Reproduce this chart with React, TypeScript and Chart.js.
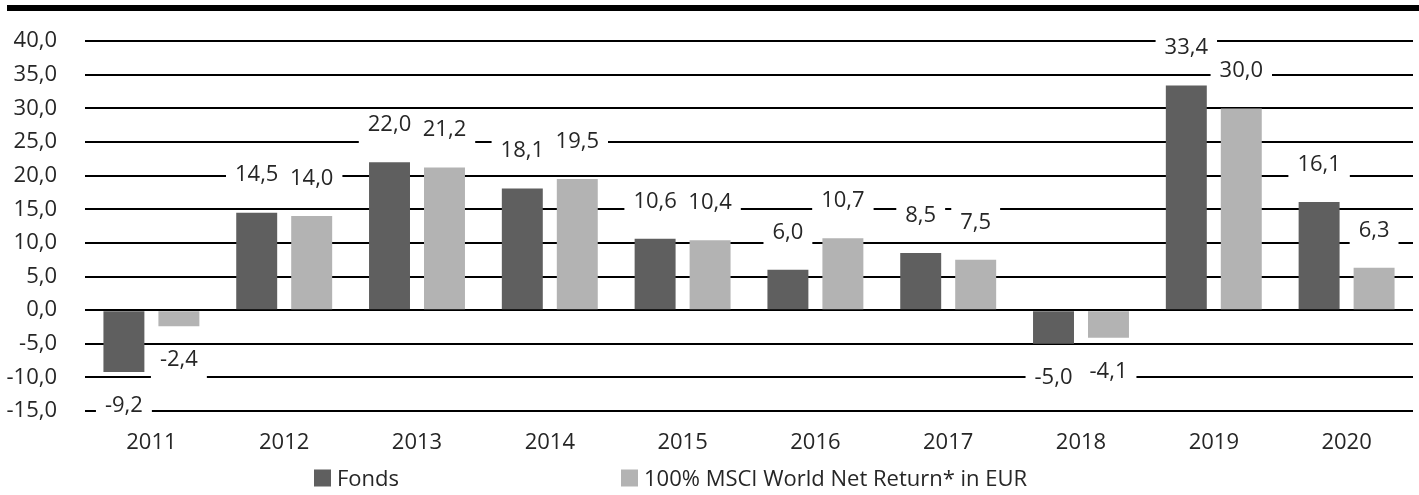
import React, { useEffect, useRef } from "react";
import { Chart, registerables } from "chart.js";

Chart.register(...registerables);

const years = ["2011", "2012", "2013", "2014", "2015", "2016", "2017", "2018", "2019", "2020"];
const fondsValues = [-9.2, 14.5, 22.0, 18.1, 10.6, 6.0, 8.5, -5.0, 33.4, 16.1];
const msciValues = [-2.4, 14.0, 21.2, 19.5, 10.4, 10.7, 7.5, -4.1, 30.0, 6.3];
const seriesNames = ["Fonds", "100% MSCI World Net Return* in EUR"];
const seriesColors = ["#5f5f5f", "#b3b3b3"];
const yMin = -15;
const yMax = 40;
const yStep = 5;

const FONT = "'Open Sans', 'Noto Sans', sans-serif";
const FS = 22;
const TEXT = "#262626";

const fmt = (v: number) => v.toFixed(1).replace(".", ",");

const extrasPlugin = {
  id: "extras",
  beforeDraw(chart: any) {
    const ctx = chart.ctx;
    ctx.save();
    ctx.fillStyle = "#000";
    ctx.fillRect(7, 5, chart.width - 7, 6);
    ctx.restore();
  },
  afterDatasetsDraw(chart: any) {
    const ctx = chart.ctx;
    ctx.save();
    ctx.font = `${FS}px ${FONT}`;
    ctx.textAlign = "center";
    ctx.textBaseline = "alphabetic";
    chart.data.datasets.forEach((ds: any, di: number) => {
      const meta = chart.getDatasetMeta(di);
      meta.data.forEach((bar: any, i: number) => {
        const v = ds.data[i] as number;
        const txt = fmt(v);
        const w = ctx.measureText(txt).width;
        const cx = bar.x;
        const cy = v >= 0 ? bar.y - 39 : bar.y + 32;
        ctx.fillStyle = "#fff";
        ctx.fillRect(cx - w / 2 - 9, cy - 13, w + 18, 34);
        ctx.fillStyle = TEXT;
        ctx.fillText(txt, cx, cy + 7.8);
      });
    });
    ctx.restore();
  },
  afterDraw(chart: any) {
    const ctx = chart.ctx;
    ctx.save();
    ctx.font = `${FS}px ${FONT}`;
    ctx.textBaseline = "alphabetic";
    ctx.textAlign = "left";
    const xs = [314, 621];
    const cy = 478;
    seriesNames.forEach((name, i) => {
      ctx.fillStyle = seriesColors[i];
      ctx.fillRect(xs[i], cy - 8.5, 17, 17);
      ctx.fillStyle = TEXT;
      ctx.fillText(name, xs[i] + 23, cy + 7.8);
    });
    ctx.restore();
  },
};

export default function App() {
  const ref = useRef<HTMLCanvasElement | null>(null);
  useEffect(() => {
    if (!ref.current) return;
    const chart = new Chart(ref.current, {
      type: "bar",
      data: {
        labels: years,
        datasets: [
          {
            label: seriesNames[0],
            data: fondsValues,
            backgroundColor: seriesColors[0],
            categoryPercentage: 0.828,
            barPercentage: 0.745,
          },
          {
            label: seriesNames[1],
            data: msciValues,
            backgroundColor: seriesColors[1],
            categoryPercentage: 0.828,
            barPercentage: 0.745,
          },
        ],
      },
      options: {
        responsive: false,
        animation: false,
        layout: { padding: { top: 37, right: 6, bottom: 0, left: 0 } },
        plugins: {
          legend: { display: false },
          tooltip: { enabled: false },
        },
        scales: {
          x: {
            grid: { display: false, drawTicks: false },
            border: { display: false },
            ticks: {
              color: TEXT,
              font: { family: FONT, size: FS },
              padding: 19,
              maxRotation: 0,
            },
            afterFit: (s: any) => {
              s.height = 84;
            },
          },
          y: {
            min: yMin,
            max: yMax,
            grid: { color: "#000", lineWidth: 2, drawTicks: false },
            border: { display: false },
            ticks: {
              stepSize: yStep,
              color: TEXT,
              font: { family: FONT, size: FS },
              padding: 28,
              callback: (v: any) => fmt(Number(v)),
            },
            afterFit: (s: any) => {
              s.width = 85;
            },
          },
        },
      },
      plugins: [extrasPlugin],
    });
    return () => chart.destroy();
  }, []);
  return (
    <div style={{ position: "absolute", left: 0, top: 0, width: 1419, height: 495, background: "#fff" }}>
      <canvas ref={ref} width={1419} height={495} style={{ display: "block" }} />
    </div>
  );
}
